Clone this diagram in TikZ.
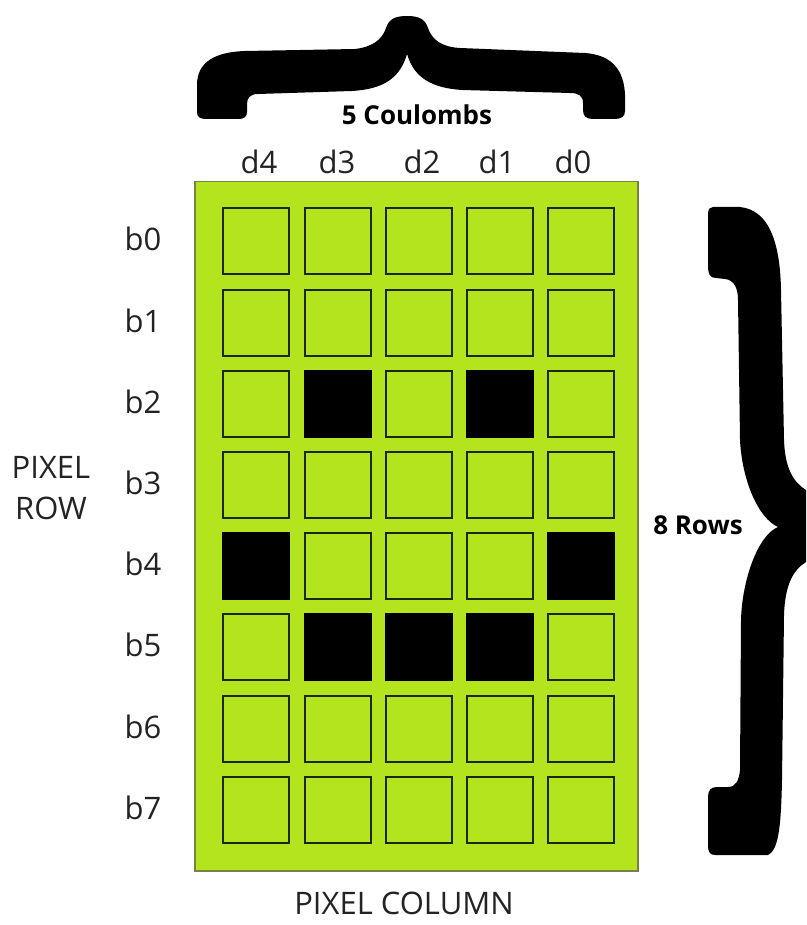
\documentclass[tikz,border=0pt]{standalone}
\usepackage{fontspec}
\setmainfont{Open Sans}
\definecolor{lcdgreen}{RGB}{180,228,30}
\definecolor{celledge}{RGB}{28,40,12}
\definecolor{paneledge}{RGB}{120,130,70}
\definecolor{txt}{RGB}{35,35,35}
\begin{document}
\begin{tikzpicture}[x=1pt,y=-1pt,
  pixel/.style={draw=celledge,line width=1.8pt,fill=lcdgreen,minimum width=66pt,minimum height=66pt,inner sep=0pt,anchor=north west},
  pixon/.style={pixel,fill=black,draw=black},
  lbl/.style={text=txt,inner sep=0pt,font=\fontsize{31}{36}\selectfont},
  caption/.style={text=txt,inner sep=0pt,font=\fontsize{31}{41}\selectfont,align=center},
  bold/.style={text=black,inner sep=0pt,font=\fontsize{26}{30}\selectfont\bfseries}]
\useasboundingbox (0,0) rectangle (806,925);
\fill[white] (0,0) rectangle (806,925);
% panel
\node[draw=paneledge,line width=1.5pt,fill=lcdgreen,minimum width=443pt,minimum height=689pt,inner sep=0pt,anchor=north west] (panel) at (194,181) {};
% cells
\foreach \r/\y in {0/207,1/289,2/370,3/451,4/532,5/613,6/695,7/776}{
  \foreach \c/\x in {0/222,1/304,2/385,3/466,4/547}{
    \node[pixel] (c\r\c) at (\x,\y) {};
  }
}
\foreach \r/\c in {2/1,2/3,4/0,4/4,5/1,5/2,5/3}{
  \node[pixon] at (c\r\c.north west) {};
}
% column labels
\node[lbl] (d4) at (259,162) {d4};
\node[lbl] (d3) at (337,162) {d3};
\node[lbl] (d2) at (422,162) {d2};
\node[lbl] (d1) at (497,162) {d1};
\node[lbl] (d0) at (573,162) {d0};
% row labels
\foreach \r/\y in {0/239,1/321,2/402,3/483,4/564,5/645,6/727,7/808}{
  \node[lbl] (b\r) at (143,\y) {b\r};
}
\node[caption] (rowcap) at (51,488) {PIXEL\\ROW};
\node[caption] (colcap) at (404,903) {PIXEL COLUMN};
\node[bold] (five) at (417,115) {5 Coulombs};
\node[bold] (eight) at (698,525) {8 Rows};
% top brace
\fill[black] (197,112) -- (197,85) .. controls (197,62) and (215,52) .. (245,51)
  -- (355,49) .. controls (372,47) and (382,40) .. (386,28)
  .. controls (389,19) and (395,16) .. (407,16)
  .. controls (419,16) and (425,19) .. (428,28)
  .. controls (432,40) and (442,47) .. (460,48)
  -- (585,53) .. controls (612,55) and (624,70) .. (625,95)
  -- (625,111) .. controls (625,117) and (621,119) .. (614,119)
  -- (593,119) .. controls (586,119) and (583,116) .. (583,110)
  -- (583,103) .. controls (583,96) and (579,93) .. (570,93)
  -- (462,90) .. controls (432,88) and (414,78) .. (407,54)
  .. controls (400,78) and (384,89) .. (352,91)
  -- (258,94) .. controls (250,94) and (247,98) .. (247,104)
  -- (247,112) .. controls (247,117) and (244,119) .. (238,119)
  -- (206,119) .. controls (200,119) and (197,117) .. (197,112) -- cycle;
% right brace
\fill[black] (713,207) -- (740,207) .. controls (768,210) and (780,240) .. (781,290)
  -- (784,440) .. controls (785,468) and (793,482) .. (806,490)
  -- (806,562) .. controls (793,570) and (785,585) .. (784,615)
  -- (782,780) .. controls (781,830) and (778,850) .. (768,855)
  -- (715,855) .. controls (710,855) and (708,852) .. (708,846)
  -- (708,797) .. controls (708,790) and (711,787) .. (717,787)
  -- (728,787) .. controls (736,787) and (739,780) .. (740,770)
  -- (741,620) .. controls (742,580) and (758,535) .. (778,527)
  .. controls (758,518) and (742,480) .. (740,440)
  -- (738,300) .. controls (738,288) and (734,280) .. (725,279)
  -- (716,278) .. controls (710,278) and (708,274) .. (708,266)
  -- (708,214) .. controls (708,209) and (710,207) .. (713,207) -- cycle;
\end{tikzpicture}
\end{document}
